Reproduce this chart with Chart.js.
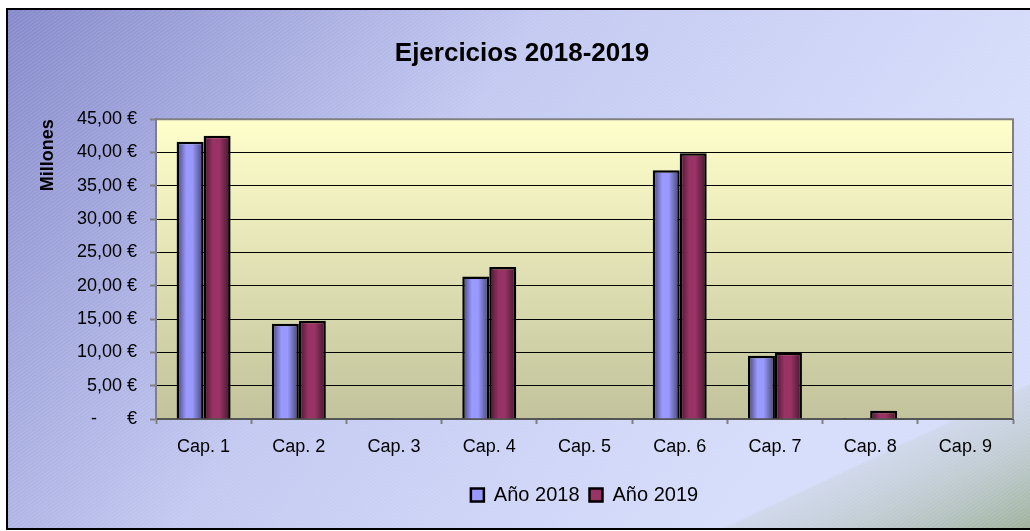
<!DOCTYPE html>
<html>
<head>
<meta charset="utf-8">
<script src="https://cdn.jsdelivr.net/npm/chart.js@4.4.1/dist/chart.umd.min.js"></script>
<style>
  html, body { margin: 0; padding: 0; background: #fff; }
  #wrap { width: 1030px; height: 531px; }
</style>
</head>
<body>
<div id="wrap"><canvas id="myChart" width="1030" height="531"></canvas></div>
<script>
var categories = ['Cap. 1', 'Cap. 2', 'Cap. 3', 'Cap. 4', 'Cap. 5', 'Cap. 6', 'Cap. 7', 'Cap. 8', 'Cap. 9'];
var anio2018 = [41.6, 14.3, 0.1, 21.4, 0.1, 37.35, 9.5, 0.15, 0];
var anio2019 = [42.5, 14.75, 0, 22.8, 0.1, 39.9, 9.95, 1.25, 0];
var seriesNames = ['Año 2018', 'Año 2019'];

var fontFam = "Arial, 'Liberation Sans', sans-serif";

function euro(v) {
  if (v === 0) return '-      €';
  return v.toFixed(2).replace('.', ',') + ' €';
}

// fondo del grafico y del area de trazado
var fondo = {
  id: 'fondo',
  beforeDraw: function(chart) {
    var c = chart.ctx, a = chart.chartArea;
    var W = chart.width, H = chart.height;
    var bx = 7, by = 9, bw = W - 7, bh = 520;
    c.save();
    c.fillStyle = '#fff';
    c.fillRect(0, 0, W, H);

    var g = c.createLinearGradient(bx, by, 720, 520);
    g.addColorStop(0, '#868acb');
    g.addColorStop(0.5, '#c3c9f1');
    g.addColorStop(1, '#d6ddfb');
    c.fillStyle = g;
    c.fillRect(bx, by, bw, bh);

    // esquina verdosa
    var g2 = c.createLinearGradient(870, 458, 925, 575);
    g2.addColorStop(0, 'rgba(170,185,170,0)');
    g2.addColorStop(0.03, 'rgba(190,200,195,0.3)');
    g2.addColorStop(1, 'rgba(145,168,135,0.8)');
    c.fillStyle = g2;
    c.fillRect(bx, by, bw, bh);

    // rayas diagonales
    c.beginPath();
    c.rect(bx, by, bw, bh);
    c.clip();
    c.strokeStyle = 'rgba(255,255,255,0.12)';
    c.lineWidth = 1;
    c.beginPath();
    for (var k = -800; k < W + 800; k += 5) {
      c.moveTo(k, H);
      c.lineTo(k + H * 1.4, 0);
    }
    c.stroke();
    c.restore();

    c.save();
    c.strokeStyle = '#000';
    c.lineWidth = 2;
    c.beginPath();
    c.moveTo(W, by);
    c.lineTo(bx, by);
    c.lineTo(bx, by + bh);
    c.lineTo(W, by + bh);
    c.stroke();

    var g3 = c.createLinearGradient(0, a.top, 0, a.bottom);
    g3.addColorStop(0, '#ffffcc');
    g3.addColorStop(1, '#c2c29c');
    c.fillStyle = g3;
    c.fillRect(a.left, a.top, a.right - a.left, a.bottom - a.top);
    c.restore();
  },
  beforeDatasetsDraw: function(chart) {
    var c = chart.ctx, a = chart.chartArea;
    c.save();
    c.strokeStyle = '#808080';
    c.lineWidth = 2;
    c.beginPath();
    c.moveTo(a.left, a.bottom);
    c.lineTo(a.left, a.top);
    c.lineTo(a.right, a.top);
    c.lineTo(a.right, a.bottom);
    c.stroke();
    c.restore();
  },
  afterDatasetsDraw: function(chart) {
    var c = chart.ctx;
    chart.data.datasets.forEach(function(ds, i) {
      chart.getDatasetMeta(i).data.forEach(function(bar) {
        var p = bar.getProps(['x', 'y', 'base', 'width']);
        var h = p.base - p.y;
        if (h < 4) return;
        var l = p.x - p.width / 2 + 2.5, r = p.x + p.width / 2 - 2.5;
        var g = c.createLinearGradient(l, 0, r, 0);
        g.addColorStop(0, 'rgba(0,0,0,0.42)');
        g.addColorStop(0.32, 'rgba(0,0,0,0)');
        g.addColorStop(0.6, 'rgba(0,0,0,0)');
        g.addColorStop(1, 'rgba(0,0,0,0.45)');
        c.fillStyle = g;
        c.fillRect(l, p.y + 2.5, r - l, h - 2.5);
      });
    });
  }
};

var ctx = document.getElementById('myChart');
var myChart = new Chart(ctx, {
  type: 'bar',
  data: {
    labels: categories,
    datasets: [{
      label: seriesNames[0],
      data: anio2018,
      backgroundColor: '#9999ff',
      borderColor: '#000',
      borderWidth: 2.5
    }, {
      label: seriesNames[1],
      data: anio2019,
      backgroundColor: '#993366',
      borderColor: '#000',
      borderWidth: 2.5
    }]
  },
  options: {
    responsive: false,
    animation: false,
    devicePixelRatio: 1,
    categoryPercentage: 0.567,
    barPercentage: 1.0,
    layout: {
      padding: { left: 31, right: 17, top: 9, bottom: 16 }
    },
    plugins: {
      title: {
        display: true,
        text: 'Ejercicios 2018-2019',
        color: '#000',
        font: { family: fontFam, size: 26, weight: 'bold' },
        padding: { top: 29, bottom: 50 }
      },
      legend: {
        position: 'bottom',
        fullSize: false,
        labels: {
          color: '#000',
          boxWidth: 13,
          boxHeight: 13,
          padding: 10,
          font: { family: fontFam, size: 20 }
        }
      },
      tooltip: { enabled: false }
    },
    scales: {
      x: {
        grid: {
          display: true,
          drawOnChartArea: false,
          drawTicks: true,
          tickLength: 5,
          tickColor: '#808080',
          tickWidth: 2
        },
        border: { color: '#555', width: 2 },
        ticks: {
          color: '#000',
          padding: 12,
          font: { family: fontFam, size: 18 }
        },
        afterFit: function(s) { s.height = 56; }
      },
      y: {
        min: 0,
        max: 45,
        ticks: {
          stepSize: 5,
          color: '#000',
          padding: 13,
          font: { family: fontFam, size: 18 },
          callback: function(v) { return euro(v); }
        },
        grid: {
          color: function(c) {
            if (c.tick && (c.tick.value === 0 || c.tick.value === 45)) return 'rgba(0,0,0,0)';
            return '#000';
          },
          lineWidth: 1,
          tickLength: 6,
          tickColor: '#808080',
          tickWidth: 2
        },
        border: { color: '#808080', width: 2 },
        title: {
          display: true,
          text: 'Millones',
          align: 'end',
          color: '#000',
          font: { family: fontFam, size: 18, weight: 'bold' },
          padding: { top: 6, bottom: 0 }
        },
        afterFit: function(s) { s.width = 125; }
      }
    }
  },
  plugins: [fondo]
});
</script>
</body>
</html>
